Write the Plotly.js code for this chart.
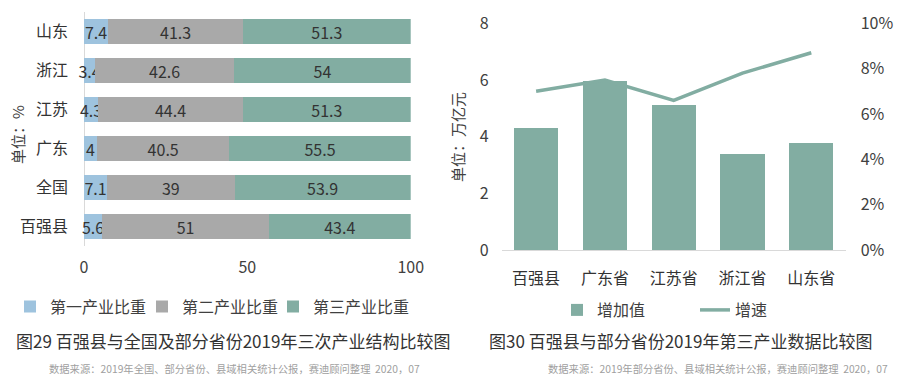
<!DOCTYPE html>
<html>
<head>
<meta charset="utf-8">
<script src="https://cdn.plot.ly/plotly-3.0.1.min.js"></script>
<style>
html,body{margin:0;padding:0;background:#fff;overflow:hidden;}
#chart{width:900px;height:385px;}
</style>
</head>
<body>
<div id="chart"></div>
<script>
// Left chart: industry structure (%)
const structCats = ['百强县', '全国', '广东', '江苏', '浙江', '山东'];
const primaryShare = [5.6, 7.1, 4, 4.3, 3.4, 7.4];
const secondaryShare = [51, 39, 40.5, 44.4, 42.6, 41.3];
const tertiaryShare = [43.4, 53.9, 55.5, 51.3, 54, 51.3];
const structNames = ['第一产业比重', '第二产业比重', '第三产业比重'];

// Right chart: tertiary industry value added and growth
const regions = ['百强县', '广东省', '江苏省', '浙江省', '山东省'];
const addedValue = [4.29, 5.96, 5.12, 3.38, 3.77];
const growthRate = [0.070, 0.075, 0.066, 0.078, 0.087];
const rightNames = ['增加值', '增速'];

const FONT = '"Noto Sans CJK SC", "Noto Sans", sans-serif';
const TXT = '#404040';
const BLUE = '#9EC3DE', GREY = '#A9A9A9', TEAL = '#82ADA2';

const W = 900, H = 385;
const px = v => v / W;
const py = v => 1 - v / H;

// left plot: 0 at x=84, 100 at x=410.7; plot extends a bit left of 0 so narrow-bar labels are not clipped
const unitPx = (410.7 - 84) / 100;
const xMin = -4;
const leftEdge = 84 + xMin * unitPx;

function stackTrace(vals, name, color, legendId) {
  return {
    type: 'bar', orientation: 'h', y: structCats, x: vals, name: name,
    marker: {color: color}, xaxis: 'x', yaxis: 'y', cliponaxis: false,
    text: vals, texttemplate: '%{x}', textposition: 'inside', textangle: 0,
    insidetextanchor: 'middle', constraintext: 'none',
    textfont: {family: FONT, size: 16, color: '#333'},
    legend: legendId, hoverinfo: 'x+y'
  };
}

const data = [
  stackTrace(primaryShare, structNames[0], BLUE, 'legend'),
  stackTrace(secondaryShare, structNames[1], GREY, 'legend3'),
  stackTrace(tertiaryShare, structNames[2], TEAL, 'legend4'),
  {
    type: 'bar', x: regions, y: addedValue, name: rightNames[0],
    marker: {color: TEAL}, xaxis: 'x2', yaxis: 'y2', legend: 'legend2'
  },
  {
    type: 'scatter', mode: 'lines', x: regions, y: growthRate, name: rightNames[1],
    line: {color: TEAL, width: 3.5}, xaxis: 'x2', yaxis: 'y3', legend: 'legend2'
  }
];

const legendBase = {
  orientation: 'h', xanchor: 'left', yanchor: 'middle',
  font: {size: 16, color: TXT}, bgcolor: 'rgba(0,0,0,0)', traceorder: 'normal'
};

const layout = {
  width: W, height: H,
  margin: {l: 0, r: 0, t: 0, b: 0, autoexpand: false},
  paper_bgcolor: '#fff', plot_bgcolor: 'rgba(0,0,0,0)',
  font: {family: FONT, color: TXT, size: 16},
  barmode: 'stack',
  bargap: 0.36,
  showlegend: true,
  xaxis: {
    domain: [px(leftEdge), px(410.7)], anchor: 'y', range: [xMin, 100],
    tickvals: [0, 50, 100], showgrid: false, showline: false,
    zeroline: true, zerolinecolor: '#D9D9D9', zerolinewidth: 1,
    ticks: '', ticklabelstandoff: 10, tickfont: {size: 16, color: TXT}, fixedrange: true
  },
  yaxis: {
    domain: [py(246.2), py(12.2)], anchor: 'x', type: 'category',
    showgrid: false, zeroline: false, showline: false,
    ticks: '', ticklabelstandoff: 2, tickfont: {size: 16, color: '#333'}, fixedrange: true
  },
  xaxis2: {
    domain: [px(501.7), px(845.7)], anchor: 'y2', type: 'category',
    showgrid: false, zeroline: false, showline: true, linecolor: '#D9D9D9', linewidth: 1,
    ticks: '', ticklabelstandoff: 14, tickfont: {size: 16, color: '#333'}, fixedrange: true
  },
  yaxis2: {
    domain: [py(250), py(23.3)], anchor: 'x2', range: [0, 8], dtick: 2,
    showgrid: false, zeroline: false, showline: false, ticks: '',
    ticklabelstandoff: 12, tickfont: {size: 16, color: TXT}, fixedrange: true
  },
  yaxis3: {
    overlaying: 'y2', anchor: 'x2', side: 'right', range: [0, 0.1], dtick: 0.02,
    tickformat: '.0%', showgrid: false, zeroline: false, showline: false, ticks: '',
    ticklabelstandoff: 14, tickfont: {size: 16, color: TXT}, fixedrange: true
  },
  legend: Object.assign({}, legendBase, {x: px(10), y: py(306.5)}),
  legend3: Object.assign({}, legendBase, {x: px(142), y: py(306.5)}),
  legend4: Object.assign({}, legendBase, {x: px(273), y: py(306.5)}),
  legend2: Object.assign({}, legendBase, {
    x: px(557), y: py(310), entrywidth: 93, entrywidthmode: 'pixels'
  }),
  annotations: [
    {text: '单位：%', textangle: -90, x: px(17), y: py(135), xref: 'paper', yref: 'paper',
     xanchor: 'center', yanchor: 'middle', showarrow: false, font: {size: 15, color: TXT}},
    {text: '单位：万亿元', textangle: -90, x: px(457), y: py(137), xref: 'paper', yref: 'paper',
     xanchor: 'center', yanchor: 'middle', showarrow: false, font: {size: 15, color: TXT}},
    {text: '图29 百强县与全国及部分省份2019年三次产业结构比较图', x: px(233.5), y: py(340),
     xref: 'paper', yref: 'paper', xanchor: 'center', yanchor: 'middle', showarrow: false,
     font: {size: 17, color: '#333'}},
    {text: '图30 百强县与部分省份2019年第三产业数据比较图', x: px(680), y: py(340),
     xref: 'paper', yref: 'paper', xanchor: 'center', yanchor: 'middle', showarrow: false,
     font: {size: 17, color: '#333'}},
    {text: '数据来源：2019年全国、部分省份、县域相关统计公报，赛迪顾问整理  2020，07', x: px(234), y: py(368),
     xref: 'paper', yref: 'paper', xanchor: 'center', yanchor: 'middle', showarrow: false,
     font: {size: 10.3, color: '#A0A0A0'}},
    {text: '数据来源：2019年部分省份、县域相关统计公报，赛迪顾问整理  2020，07', x: px(717.5), y: py(368),
     xref: 'paper', yref: 'paper', xanchor: 'center', yanchor: 'middle', showarrow: false,
     font: {size: 10.3, color: '#A0A0A0'}}
  ]
};

Plotly.newPlot('chart', data, layout, {displayModeBar: false, staticPlot: true});
</script>
</body>
</html>
